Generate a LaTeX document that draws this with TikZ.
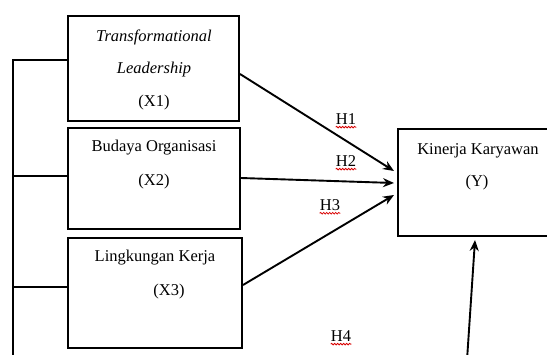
\documentclass[tikz,border=0pt]{standalone}
\usepackage{fontspec}
\setmainfont{Liberation Serif}
\usetikzlibrary{arrows.meta,calc,decorations.pathmorphing}
\begin{document}
\begin{tikzpicture}[x=1pt,y=-1pt,
  box/.style={draw,line width=2pt,inner sep=0pt},
  txt/.style={inner sep=0pt,font=\fontsize{16.5}{20}\selectfont},
  conn/.style={line width=1.9pt},
  arr/.style={line width=1.9pt,-{Stealth[length=11pt,width=9pt]}},
  wavy/.style={red!85!black,line width=0.8pt,decorate,decoration={snake,amplitude=0.8pt,segment length=3pt}}]
\useasboundingbox (0,0) rectangle (547,354);
\clip (0,0) rectangle (547,354);
% boxes
\node[box,minimum width=171pt,minimum height=105pt] (X1) at (153.5,68) {};
\node[box,minimum width=172pt,minimum height=101pt] (X2) at (154,178.5) {};
\node[box,minimum width=174pt,minimum height=110pt] (X3) at (155,293) {};
\node[box,minimum width=202pt,minimum height=107pt] (Y) at (499,182.5) {};
% texts
\node[txt,font=\fontsize{16.5}{20}\selectfont\itshape] (t1a) at (154,37) {Transformational};
\node[txt,font=\fontsize{16.5}{20}\selectfont\itshape] (t1b) at (154,70) {Leadership};
\node[txt] (t1c) at (154,103) {(X1)};
\node[txt] (t2a) at (154,148) {Budaya Organisasi};
\node[txt] (t2b) at (154,182) {(X2)};
\node[txt] (t3a) at (155,258) {Lingkungan Kerja};
\node[txt] (t3b) at (169,292) {(X3)};
\node[txt] (tya) at (478,151) {Kinerja Karyawan};
\node[txt] (tyb) at (477,183) {(Y)};
% hypothesis labels
\node[txt] (h1) at (346,119) {H1};
\node[txt] (h2) at (346,161) {H2};
\node[txt] (h3) at (330,205) {H3};
\node[txt] (h4) at (341,336) {H4};
\foreach \h in {h1,h2,h3,h4}{
  \draw[wavy] ($(\h.south west)+(0,2.5)$) -- ($(\h.south east)+(0,2.5)$);
}
% left bracket
\coordinate (lt) at (13,60);
\coordinate (lb) at (13,360);
\draw[conn] (lb) -- (lt) -- ($(X1.west)+(0,-8)$);
\draw[conn] (13,176) -- ($(X2.west)+(0,-2.5)$);
\draw[conn] (13,287) -- ($(X3.west)+(0,-6)$);
% arrows to Y
\draw[arr] ($(X1.east)+(0,6)$) -- ($(Y.west)+(-3,-11.5)$);
\draw[arr] ($(X2.east)+(0,-0.5)$) -- ($(Y.west)+(-3,0.5)$);
\draw[arr] ($(X3.east)+(0,-8)$) -- ($(Y.west)+(-3,12.5)$);
\coordinate (h4s) at (467,360);
\draw[arr] (h4s) -- ($(Y.south west)+(78,3)$);
\end{tikzpicture}
\end{document}
